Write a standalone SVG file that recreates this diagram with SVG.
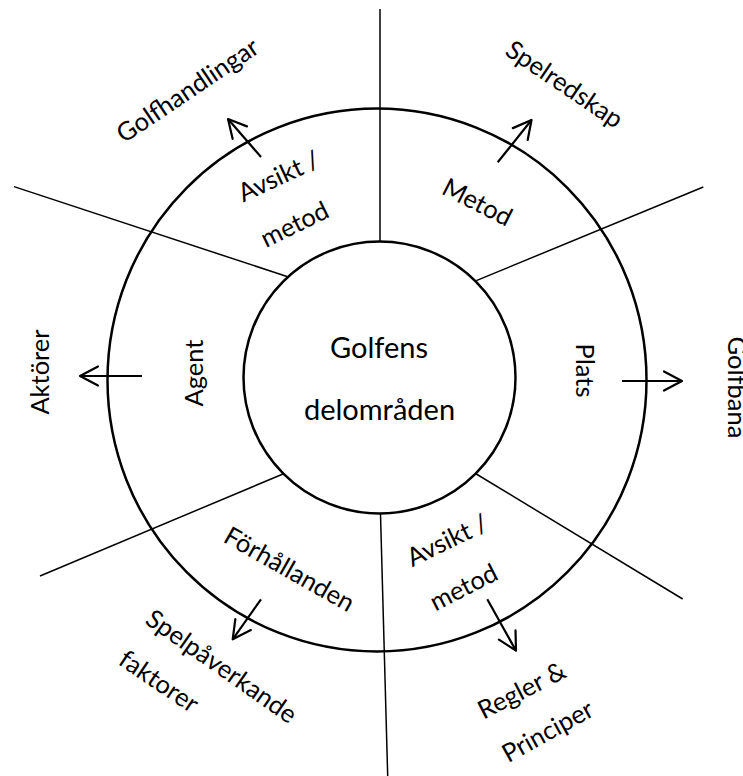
<svg xmlns="http://www.w3.org/2000/svg" width="743" height="776" viewBox="0 0 743 776">
<defs>
<style>
.ring{fill:none;stroke:#000;stroke-width:2.5}
.sep{stroke:#000;stroke-width:1.5;fill:none}
.arr{stroke:#000;stroke-width:2.2;fill:none;marker-end:url(#ah)}
text{font-family:Lato,"Liberation Sans",sans-serif;fill:#000}
.lbl{font-size:25.5px;text-anchor:middle}
.big{font-size:29px;text-anchor:middle}
</style>
<marker id="ah" markerUnits="userSpaceOnUse" viewBox="-22 -12 24 24" markerWidth="24" markerHeight="24" refX="0" refY="0" orient="auto" overflow="visible">
<path d="M-18,-9.5 L0,0 L-18,9.5" fill="none" stroke="#000" stroke-width="2.2" stroke-linejoin="round" stroke-linecap="round"/>
</marker>
</defs>
<rect width="743" height="776" fill="#fff"/>
<g id="connectors">
<line class="sep" x1="380" y1="9" x2="380" y2="242"/>
<line class="sep" x1="14" y1="186.6" x2="287" y2="276.5"/>
<line class="sep" x1="476.3" y1="280.6" x2="703.3" y2="187"/>
<line class="sep" x1="40" y1="576" x2="283" y2="474"/>
<line class="sep" x1="476.3" y1="474" x2="682.7" y2="599"/>
<line class="sep" x1="380.5" y1="514" x2="387.7" y2="776"/>
<line class="arr" x1="261" y1="157" x2="228" y2="119"/>
<line class="arr" x1="497.7" y1="162.3" x2="531.5" y2="120"/>
<line class="arr" x1="142" y1="376" x2="80" y2="376"/>
<line class="arr" x1="622" y1="381" x2="682" y2="381"/>
<line class="arr" x1="261" y1="599.3" x2="232.7" y2="639.3"/>
<line class="arr" x1="487.3" y1="599.3" x2="516" y2="650.7"/>
</g>
<g id="outer-ring">
<ellipse class="ring" cx="377" cy="380" rx="269.5" ry="271.5"/>
</g>
<g id="center">
<circle class="ring" cx="379.5" cy="377.5" r="136"/>
<text class="big" x="379" y="358">Golfens</text>
<text class="big" x="379.5" y="420">delområden</text>
</g>
<g id="seg-golfhandlingar">
<text class="lbl" transform="translate(279,177) rotate(-25)" y="8">Avsikt /</text>
<text class="lbl" transform="translate(295,225) rotate(-26)" y="8">metod</text>
<text class="lbl" transform="translate(188,91) rotate(-34)" y="8">Golfhandlingar</text>
</g>
<g id="seg-spelredskap">
<text class="lbl" transform="translate(477,203) rotate(27)" y="8">Metod</text>
<text class="lbl" transform="translate(564,85) rotate(34)" y="8">Spelredskap</text>
</g>
<g id="seg-golfbana">
<text class="lbl" transform="translate(576,370.5) rotate(90)">Plats</text>
<text class="lbl" transform="translate(727.5,387.5) rotate(90)">Golfbana</text>
</g>
<g id="seg-regler">
<text class="lbl" transform="translate(447.5,541) rotate(-26)" y="8">Avsikt /</text>
<text class="lbl" transform="translate(464,588) rotate(-27)" y="8">metod</text>
<text class="lbl" transform="translate(522,691) rotate(-27)" y="8">Regler &amp;</text>
<text class="lbl" transform="translate(548,732) rotate(-29)" y="8">Principer</text>
</g>
<g id="seg-spelpaverkande">
<text class="lbl" transform="translate(289,570) rotate(29.5)" y="8">Förhållanden</text>
<text class="lbl" transform="translate(221,667) rotate(35)" y="8">Spelpåverkande</text>
<text class="lbl" transform="translate(158.5,682) rotate(34)" y="8">faktorer</text>
</g>
<g id="seg-aktorer">
<text class="lbl" transform="translate(202.7,373) rotate(-90)">Agent</text>
<text class="lbl" transform="translate(49,372) rotate(-90)">Aktörer</text>
</g>
</svg>
